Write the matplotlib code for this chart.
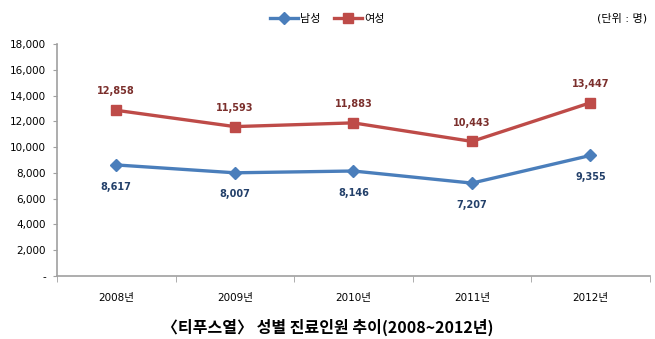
import matplotlib
matplotlib.use('Agg')
import matplotlib.pyplot as plt
from matplotlib.ticker import FixedLocator, FuncFormatter

plt.rcParams['font.family'] = ['DejaVu Sans', 'Noto Sans CJK KR']

years = ['2008년', '2009년', '2010년', '2011년', '2012년']
male = [8617, 8007, 8146, 7207, 9355]
female = [12858, 11593, 11883, 10443, 13447]
yticks = [0, 2000, 4000, 6000, 8000, 10000, 12000, 14000, 16000, 18000]

blue = '#4a7ebb'
red = '#be4b48'

fig = plt.figure(figsize=(6.55, 3.39), dpi=100)
ax = fig.add_axes([0.087, 0.186, 0.905, 0.684])

x = list(range(len(years)))
ax.plot(x, male, color=blue, lw=2.4, marker='D', ms=6, label='남성')
ax.plot(x, female, color=red, lw=2.4, marker='s', ms=6.5, label='여성')

for i in x:
    ax.annotate(f'{female[i]:,}', (i, female[i]), xytext=(0, 10), textcoords='offset points',
                ha='center', va='bottom', fontsize=7, fontweight='bold', color='#7b2f2c')
    ax.annotate(f'{male[i]:,}', (i, male[i]), xytext=(0, -12), textcoords='offset points',
                ha='center', va='top', fontsize=7, fontweight='bold', color='#23406a')

ax.set_xlim(-0.5, len(years) - 0.5)
ax.set_ylim(0, 18000)
ax.set_yticks(yticks)
ax.yaxis.set_major_formatter(FuncFormatter(lambda v, p: '-' if v == 0 else f'{int(v):,}'))
ax.set_xticks(x)
ax.set_xticklabels(years)
ax.xaxis.set_minor_locator(FixedLocator([i - 0.5 for i in range(len(years) + 1)]))
ax.tick_params(axis='x', which='major', length=0, pad=12, labelsize=7.5)
ax.tick_params(axis='x', which='minor', length=4, color='#a0a0a0', direction='out')
ax.tick_params(axis='y', length=3, color='#a0a0a0', labelsize=7.5, pad=5)

for s in ['top', 'right']:
    ax.spines[s].set_visible(False)
for s in ['left', 'bottom']:
    ax.spines[s].set_color('#a0a0a0')
    ax.spines[s].set_linewidth(1.2)

fig.legend(loc='center', bbox_to_anchor=(0.5, 0.945), ncol=2, frameon=False,
           fontsize=8, handlelength=2.5, columnspacing=1.2, handletextpad=0.2)
fig.text(0.988, 0.945, '(단위 : 명)', ha='right', va='center', fontsize=8)
fig.text(0.5, 0.035, '〈티푸스열〉 성별 진료인원 추이(2008~2012년)', ha='center', va='center',
         fontsize=11.5, fontweight='bold', family=['Noto Sans CJK KR', 'DejaVu Sans'])

fig.savefig('out.png', dpi=100)
